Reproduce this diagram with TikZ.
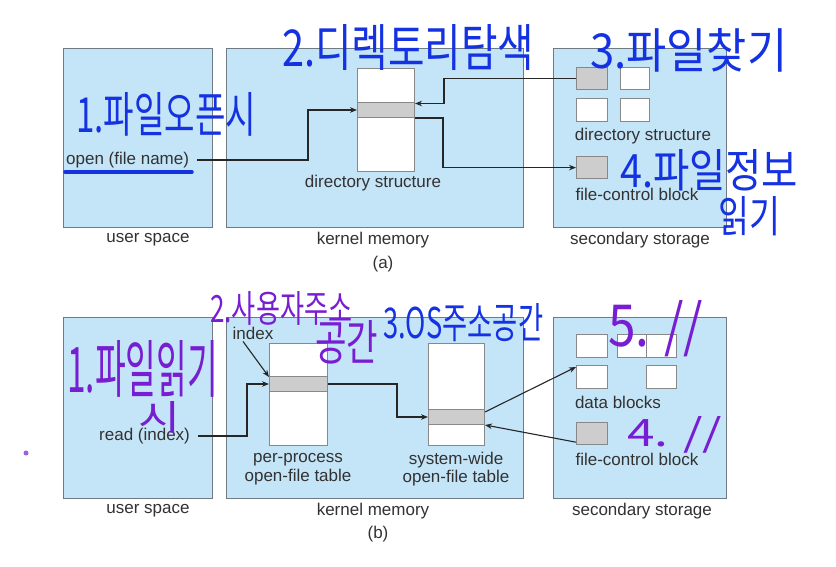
\documentclass[tikz,border=0pt]{standalone}
\usepackage{fontspec}
\usepackage{graphicx}
\setmainfont{Liberation Sans}
\newfontfamily\kr{Noto Sans CJK KR}
\usetikzlibrary{arrows.meta,calc}
\definecolor{boxblue}{RGB}{196,228,247}
\definecolor{boxline}{RGB}{112,122,130}
\definecolor{tabline}{RGB}{136,136,136}
\definecolor{bandgray}{RGB}{205,205,205}
\definecolor{txt}{RGB}{50,50,50}
\definecolor{penblue}{RGB}{20,50,225}
\definecolor{penpurple}{RGB}{120,30,210}
\newcommand\hw[3]{\resizebox{#1pt}{#2pt}{\kr #3}}
\begin{document}
\begin{tikzpicture}[x=1pt,y=-1pt,
  region/.style={draw=boxline,fill=boxblue,line width=1pt,rectangle,inner sep=0,anchor=north west},
  tab/.style={draw=tabline,fill=white,line width=1pt,rectangle,inner sep=0,anchor=north west},
  band/.style={tab,fill=bandgray},
  sq/.style={tab,line width=1.2pt},
  gsq/.style={sq,fill=bandgray},
  lbl/.style={text=txt,font=\fontsize{17}{18.5}\selectfont,inner sep=0},
  conn/.style={draw=black!85,line width=1.1pt,-{Stealth[length=7pt,width=5.5pt]}},
  blu/.style={text=penblue,inner sep=0,anchor=north west},
  pur/.style={text=penpurple,inner sep=0,anchor=north west}]
\useasboundingbox[fill=white] (0,0) rectangle (836,567);

% ---------- (a) ----------
\node[region,minimum width=149pt,minimum height=179pt] (usA) at (63,48) {};
\node[region,minimum width=297pt,minimum height=179pt] (kmA) at (226,48) {};
\node[region,minimum width=173pt,minimum height=179pt] (ssA) at (553,48) {};
\node[tab,minimum width=57pt,minimum height=103pt] (dsA) at (357,68) {};
\node[band,minimum width=57pt,minimum height=15pt] (dsbA) at (357,102) {};
\node[gsq,minimum width=31pt,minimum height=22pt] (dA1) at (576,67) {};
\node[sq,minimum width=29pt,minimum height=22pt] (dA2) at (620,67) {};
\node[sq,minimum width=31pt,minimum height=23pt] (dA3) at (576,98) {};
\node[sq,minimum width=29pt,minimum height=23pt] (dA4) at (620,98) {};
\node[gsq,minimum width=31pt,minimum height=22pt] (fcbA) at (576,156) {};

\node[lbl,anchor=west] (openA) at (66,160) {open (file name)};
\node[lbl] (dslA) at (373,183) {directory structure};
\node[lbl] (dslA2) at (643,136) {directory structure};
\node[lbl] (fcblA) at (637,194) {file-control block};
\node[lbl] (uslA) at (148,240) {user space};
\node[lbl] (kmlA) at (373,240) {kernel memory};
\node[lbl] (sslA) at (640,240) {secondary storage};
\node[lbl] (capA) at (383,264) {(a)};

\draw[conn] ([xshift=8pt]openA.east) -| ($(dsbA.west)+(-49,0)$) -- (dsbA.west);
\draw[conn] (dsbA.south east) -| ($(fcbA.west)+(-133,0)$) -- (fcbA.west);
\draw[conn] (dA1.west) -| ($(dsbA.north east)+(29,1.5)$) -- ($(dsbA.north east)+(0,1.5)$);

% ---------- (b) ----------
\node[region,minimum width=149pt,minimum height=181pt] (usB) at (63,317) {};
\node[region,minimum width=297pt,minimum height=181pt] (kmB) at (226,317) {};
\node[region,minimum width=173pt,minimum height=181pt] (ssB) at (553,317) {};
\node[tab,minimum width=58pt,minimum height=102pt] (ppT) at (269,343) {};
\node[band,minimum width=58pt,minimum height=15pt] (ppband) at (269,376) {};
\node[tab,minimum width=56pt,minimum height=102pt] (swT) at (428,343) {};
\node[band,minimum width=56pt,minimum height=15pt] (swband) at (428,409) {};
\node[sq,minimum width=31pt,minimum height=23pt] (db1) at (576,334) {};
\node[sq,minimum width=29pt,minimum height=23pt] (db2) at (617,334) {};
\node[sq,minimum width=30pt,minimum height=23pt] (db3) at (646,334) {};
\node[sq,minimum width=31pt,minimum height=23pt] (db4) at (576,365) {};
\node[sq,minimum width=30pt,minimum height=23pt] (db5) at (646,365) {};
\node[gsq,minimum width=31pt,minimum height=22pt] (fcbB) at (576,422) {};

\node[lbl] (idx) at (253,333) {index};
\node[lbl,anchor=west] (readB) at (99,436) {read (index)};
\node[lbl,align=center] (ppL) at (298,469) {per-process\\open-file table};
\node[lbl,align=center] (swL) at (456,469) {system-wide\\open-file table};
\node[lbl] (dbl) at (618,402) {data blocks};
\node[lbl] (fcblB) at (637,459) {file-control block};
\node[lbl] (uslB) at (148,511) {user space};
\node[lbl] (kmlB) at (373,511) {kernel memory};
\node[lbl] (sslB) at (642,511) {secondary storage};
\node[lbl] (capB) at (378,534) {(b)};

\draw[conn] ($(idx.south)+(-10,2)$) -- ($(ppband.north west)+(0,1)$);
\draw[conn] ([xshift=8pt]readB.east) -| ($(ppband.west)+(-22,0)$) -- (ppband.west);
\draw[conn] (ppband.east) -| ($(swband.west)+(-31,0)$) -- (swband.west);
\draw[conn] ($(swband.north east)+(0,3)$) -- ($(db4.north west)+(0,2)$);
\draw[conn] ($(fcbB.south west)+(0,-3)$) -- (swband.south east);

% ---------- handwritten notes ----------
\draw[penblue,line width=3.5pt,line cap=round] (65,172) -- (192,172);
\node[blu] (n1a) at (76,92) {\hw{180}{40}{1.파일오픈시}};
\node[blu] (n2a) at (282,24) {\hw{252}{42}{2.디렉토리탐색}};
\node[blu] (n3a) at (590,28) {\hw{197}{40}{3.파일찾기}};
\node[blu] (n4a) at (620,149) {\hw{178}{38}{4.파일정보}};
\node[blu] (n4b) at (718,196) {\hw{62}{36}{읽기}};

\node[pur] (n1b) at (67,340) {\hw{151}{52}{1.파일읽기}};
\node[pur] (n1c) at (138,401) {\hw{42}{29}{시}};
\node[pur] (n2b) at (210,291) {\hw{142}{31}{2.사용자주소}};
\node[pur] (n2c) at (315,320) {\hw{63}{40}{공간}};
\node[blu] (n3b) at (383,303) {\hw{160}{35}{3.OS주소공간}};
\node[pur] (n5b) at (608,300) {\hw{95}{46}{5. //}};
\node[pur] (n4c) at (627,416) {\hw{95}{30}{4. //}};
\fill[penpurple!70] (26,453) circle (2.5);
\end{tikzpicture}
\end{document}
